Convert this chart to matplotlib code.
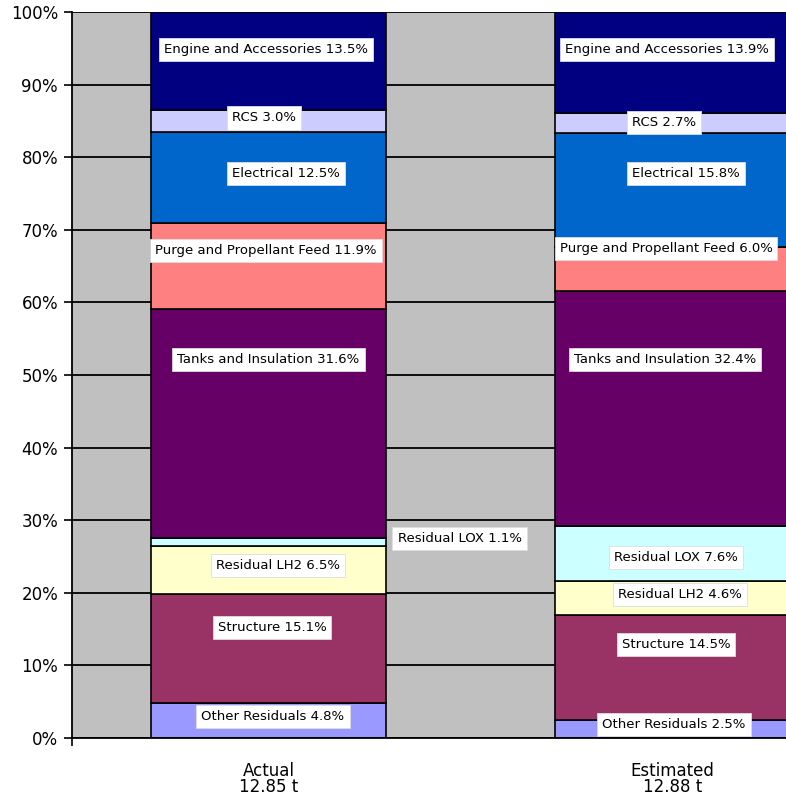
import matplotlib.pyplot as plt
import numpy as np

plt.rcParams["font.family"] = "DejaVu Sans"

# データ
categories = ['Actual', 'Estimated']
totals = ['12.85 t', '12.88 t']
components = ['Other Residuals', 'Structure', 'Residual LH2', 'Residual LOX',
              'Tanks and Insulation', 'Purge and Propellant Feed', 'Electrical',
              'RCS', 'Engine and Accessories']
actual = [4.8, 15.1, 6.5, 1.1, 31.6, 11.9, 12.5, 3.0, 13.5]
estimated = [2.5, 14.5, 4.6, 7.6, 32.4, 6.0, 15.8, 2.7, 13.9]

# ラベル位置 (y は %, dx はバー中心からのピクセル)
actual_label_y = [2.9, 15.2, 23.7, 27.5, 52.1, 67.2, 77.7, 85.4, 94.8]
estimated_label_y = [1.8, 12.9, 19.7, 24.9, 52.1, 67.4, 77.7, 84.8, 94.8]
actual_dx = [4.5, 3.5, 9.5, 191, 0, -2.5, 17.5, -4.5, -2.5]
estimated_dx = [1.5, 3.5, 7.5, 3.5, -7.5, -6.5, 13.5, -8.5, -5.5]

colors = ['#9999FF', '#993366', '#FFFFCC', '#CCFFFF', '#660066',
          '#FF8080', '#0066CC', '#CCCCFF', '#000080']

fig = plt.figure(figsize=(7.86, 7.97), dpi=100)
ax = fig.add_axes([72 / 786, 59 / 797, 797 / 786, 726 / 797])
ax.set_facecolor('#C0C0C0')

x = np.arange(len(categories))
px = 1 / 404  # 1ピクセル分のデータ幅
width = 235 * px

series = [actual, estimated]
label_y = [actual_label_y, estimated_label_y]
label_dx = [actual_dx, estimated_dx]

for i, vals in enumerate(series):
    bottom = 0
    for j, v in enumerate(vals):
        ax.bar(x[i], v, width, bottom=bottom, color=colors[j],
               edgecolor='black', linewidth=1.2, zorder=2)
        bottom += v
    for j, v in enumerate(vals):
        ax.text(x[i] + label_dx[i][j] * px, label_y[i][j],
                f'{components[j]} {v:.1f}%', ha='center', va='center',
                fontsize=9.5, color='black', zorder=5,
                bbox=dict(boxstyle='square,pad=0.38', facecolor='white',
                          edgecolor='#dddddd', linewidth=0.6))

ax.set_xlim(-196.5 * px, 1 + 196.5 * px)
ax.set_ylim(0, 100)
ax.set_yticks(np.arange(0, 101, 10))
ax.set_yticklabels([f'{t}%' for t in range(0, 101, 10)], fontsize=12)
ax.set_xticks(x)
ax.set_xticklabels([f'{c}\n{t}' for c, t in zip(categories, totals)],
                   fontsize=12, linespacing=0.85)
ax.set_xticks([-196.5 * px], minor=True)
ax.tick_params(axis='x', which='major', length=0, pad=17)
ax.tick_params(axis='x', which='minor', length=6, width=1.2, direction='out')
ax.tick_params(axis='y', length=6, width=1.2, direction='out', pad=4)

ax.grid(True, axis='y', color='black', linewidth=1.3, zorder=1)
ax.set_axisbelow(True)
for s in ['top', 'right']:
    ax.spines[s].set_visible(False)
for s in ['left', 'bottom']:
    ax.spines[s].set_linewidth(1.3)

plt.savefig('out.png', dpi=100)
